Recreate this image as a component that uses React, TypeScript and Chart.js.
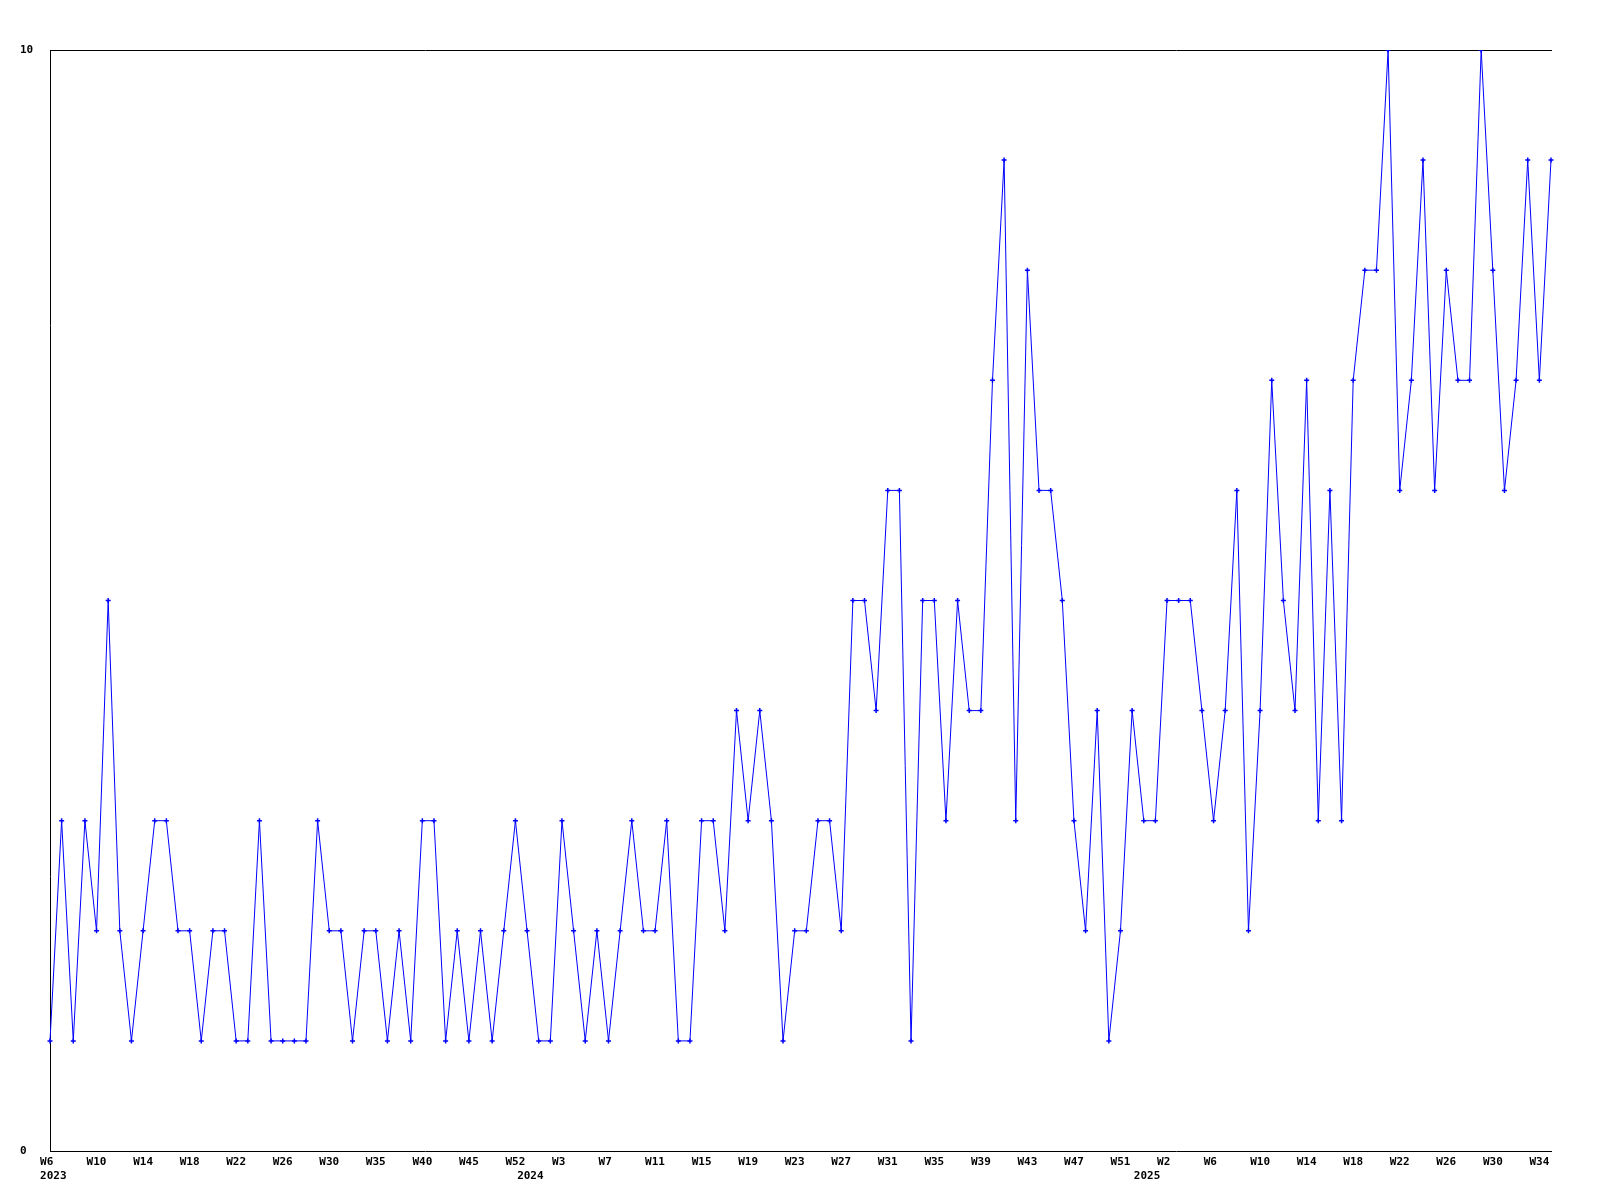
import React, { useEffect, useRef } from "react";
import { Chart, registerables } from "chart.js";

Chart.register(...registerables);

// Category year for each point
const years: string[] = [
  "2023","2023","2023","2023","2023","2023","2023","2023","2023","2023",
  "2023","2023","2023","2023","2023","2023","2023","2023","2023","2023",
  "2023","2023","2023","2023","2023","2023","2023","2023","2023","2023",
  "2023","2023","2023","2023","2023","2023","2023","2023","2023","2023",
  "2023",
  "2024","2024","2024","2024","2024","2024","2024","2024","2024","2024",
  "2024","2024","2024","2024","2024","2024","2024","2024","2024","2024",
  "2024","2024","2024","2024","2024","2024","2024","2024","2024","2024",
  "2024","2024","2024","2024","2024","2024","2024","2024","2024","2024",
  "2024","2024","2024","2024","2024","2024","2024","2024","2024","2024",
  "2024","2024","2024",
  "2025","2025","2025","2025","2025","2025","2025","2025","2025","2025",
  "2025","2025","2025","2025","2025","2025","2025","2025","2025","2025",
  "2025","2025","2025","2025","2025","2025","2025","2025","2025","2025",
  "2025","2025","2025","2025","2025","2025",
];

// Week label for each point
const weeks: string[] = [
  "W6","W7","W8","W9","W10","W11","W12","W13","W14","W15",
  "W16","W17","W18","W19","W20","W21","W22","W23","W24","W25",
  "W26","W27","W28","W29","W30","W31","W32","W34","W35","W36",
  "W37","W39","W40","W41","W42","W43","W45","W47","W49","W50",
  "W52",
  "W0","W1","W2","W3","W4","W5","W6","W7","W8","W9",
  "W10","W11","W12","W13","W14","W15","W16","W17","W18","W19",
  "W20","W21","W22","W23","W24","W25","W26","W27","W28","W29",
  "W30","W31","W32","W33","W34","W35","W36","W37","W38","W39",
  "W40","W41","W42","W43","W44","W45","W46","W47","W48","W49",
  "W50","W51","W52",
  "W0","W1","W2","W3","W4","W5","W6","W7","W8","W9",
  "W10","W11","W12","W13","W14","W15","W16","W17","W18","W19",
  "W20","W21","W22","W23","W24","W25","W26","W27","W28","W29",
  "W30","W31","W32","W33","W34","W35",
];

const values: number[] = [
  1,3,1,3,2,5,2,1,2,3,
  3,2,2,1,2,2,1,1,3,1,
  1,1,1,3,2,2,1,2,2,1,
  2,1,3,3,1,2,1,2,1,2,
  3,2,1,1,3,2,1,2,1,2,
  3,2,2,3,1,1,3,3,2,4,
  3,4,3,1,2,2,3,3,2,5,
  5,4,6,6,1,5,5,3,5,4,
  4,7,9,3,8,6,6,5,3,2,
  4,1,2,4,3,3,5,5,5,4,
  3,4,6,2,4,7,5,4,7,3,
  6,3,7,8,8,10,6,7,9,6,
  8,7,7,10,8,6,7,9,7,9,
];

const yTicks = { min: 0, max: 10, step: 10 };
const labelEvery = 4;

// left-align a label about 3 characters before its point (centred text with padding spaces)
const padWeek = (s: string) => (s.length < 3 ? s + " " : s);
const padYear = (s: string) => " " + s;

export default function App() {
  const ref = useRef<HTMLCanvasElement>(null);

  useEffect(() => {
    if (!ref.current) return;
    const font = {
      family: "'DejaVu Sans Mono', monospace",
      size: 11,
      weight: "bold" as const,
      lineHeight: "14px",
    };
    const chart = new Chart(ref.current, {
      type: "line",
      data: {
        labels: weeks.map((w, i) => years[i] + "-" + w),
        datasets: [
          {
            data: values,
            borderColor: "#0000ff",
            borderWidth: 1,
            pointStyle: "cross",
            pointRadius: 2.5,
            pointBorderWidth: 1.5,
            pointBorderColor: "#0000ff",
            pointBackgroundColor: "#0000ff",
            tension: 0,
            fill: false,
          },
        ],
      },
      options: {
        responsive: false,
        animation: false,
        devicePixelRatio: 1,
        events: [],
        layout: { padding: { left: 12, right: 41, top: 0, bottom: 0 } },
        plugins: {
          legend: { display: false },
          tooltip: { enabled: false },
          title: { display: false },
        },
        scales: {
          x: {
            type: "category",
            position: "bottom",
            offset: false,
            grid: { display: false, drawTicks: false },
            border: { display: true, color: "#000000", width: 1 },
            ticks: {
              autoSkip: false,
              maxRotation: 0,
              minRotation: 0,
              padding: 4,
              color: "#000000",
              font,
              callback: (_v: any, i: number) => {
                const wk = i % labelEvery === 0 ? padWeek(weeks[i]) : "";
                const yr = i === 0 || years[i] !== years[i - 1] ? padYear(years[i]) : "";
                if (!wk && !yr) return null;
                return yr ? [wk, yr] : wk;
              },
            },
            afterFit: (s: any) => {
              s.height = 41;
            },
          },
          xTop: {
            type: "category",
            position: "top",
            offset: false,
            grid: { display: false, drawTicks: false },
            border: { display: true, color: "#000000", width: 1 },
            ticks: { display: false },
            afterFit: (s: any) => {
              s.height = 42;
            },
          },
          y: {
            min: yTicks.min,
            max: yTicks.max,
            grid: { display: false, drawTicks: false },
            border: { display: true, color: "#000000", width: 1 },
            ticks: {
              stepSize: yTicks.step,
              crossAlign: "far",
              color: "#000000",
              font,
            },
            afterFit: (s: any) => {
              s.width = 30;
            },
          },
        },
      },
    } as any);
    return () => chart.destroy();
  }, []);

  return (
    <canvas
      ref={ref}
      width={1584}
      height={1184}
      style={{ display: "block", width: 1584, height: 1184 }}
    />
  );
}
